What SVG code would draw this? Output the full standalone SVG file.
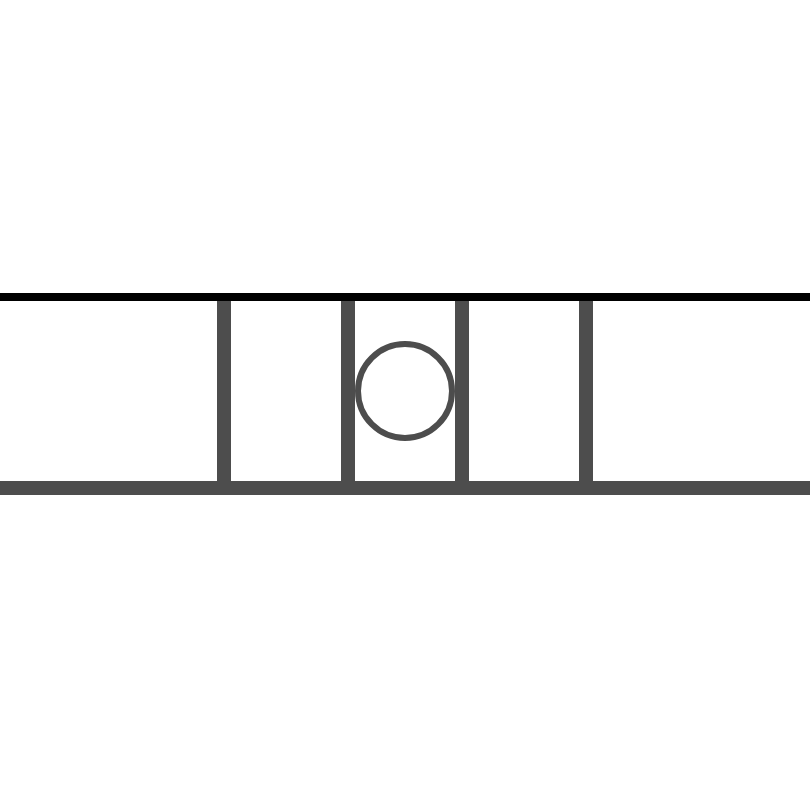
<svg xmlns="http://www.w3.org/2000/svg" width="810" height="810" viewBox="0 0 810 810">
<style>
.bar{fill:#4d4d4d}
</style>
<rect width="810" height="810" fill="#ffffff"/>
<g id="rungs">
<rect class="bar" x="217" y="297" width="14" height="190"/>
<rect class="bar" x="341" y="297" width="14" height="190"/>
<rect class="bar" x="455" y="297" width="14" height="190"/>
<rect class="bar" x="579" y="297" width="14" height="190"/>
</g>
<rect id="bottom-rail" class="bar" x="0" y="481" width="810" height="14"/>
<rect id="top-line" x="0" y="293" width="810" height="8" fill="#000000"/>
<circle id="circle" cx="405" cy="391" r="47" fill="none" stroke="#4d4d4d" stroke-width="6"/>
</svg>
